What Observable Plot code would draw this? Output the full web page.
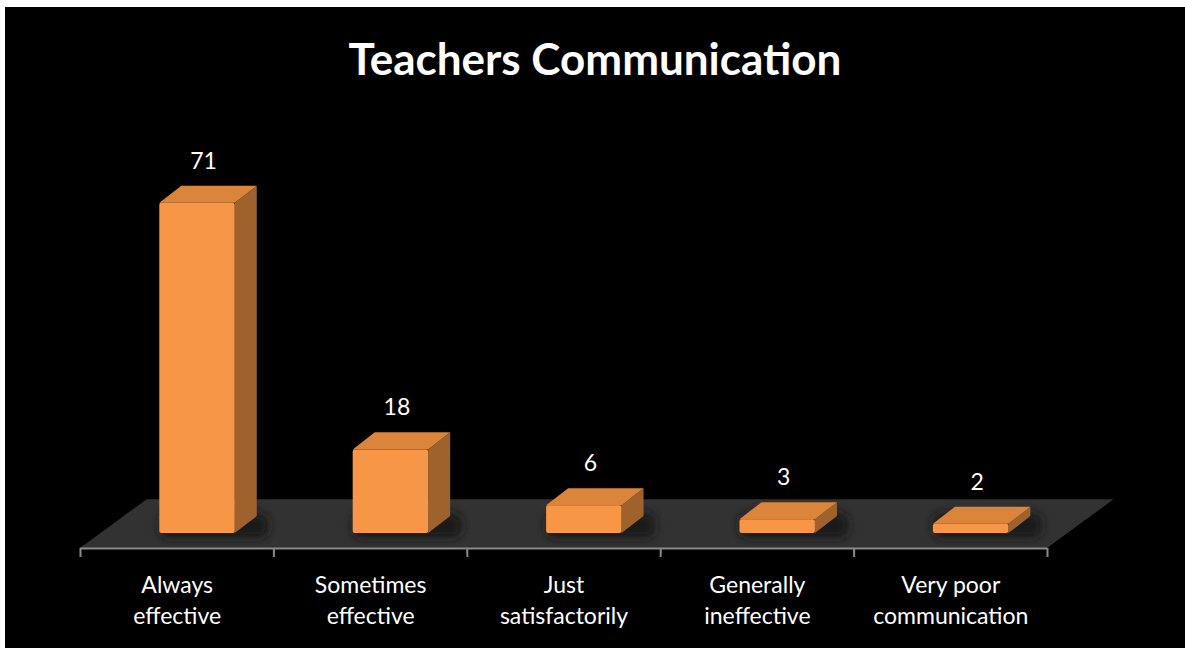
<!DOCTYPE html>
<html>
<head>
<meta charset="utf-8">
<script src="https://cdn.jsdelivr.net/npm/d3@7"></script>
<script src="https://cdn.jsdelivr.net/npm/@observablehq/plot@0.6"></script>
<style>
  html, body { margin: 0; padding: 0; background: #ffffff; }
  #wrap { position: absolute; left: 5px; top: 7px; width: 1180px; height: 641px; background: #000; overflow: hidden; }
  #title { height: 100px; line-height: 102px; text-align: center; color: #fff; font-family: Lato, "Open Sans", sans-serif; font-weight: bold; font-size: 44px; }
  #chart svg { display: block; }
</style>
</head>
<body>
<div id="wrap">
  <div id="title">Teachers Communication</div>
  <div id="chart"></div>
</div>
<script>
// ---- data ----
const title = "Teachers Communication";
const categories = ["Always\neffective", "Sometimes\neffective", "Just\nsatisfactorily", "Generally\nineffective", "Very poor\ncommunication"];
const values = [71, 18, 6, 3, 2];

// ---- styling / pseudo-3D geometry (in scale units) ----
const BAR_L = 0.41, BAR_R = 0.80;     // front face within each band
const DX = 0.114, DY = 3.66;          // depth offset of the bar
const FLOOR_FRONT = -3.2, FLOOR_BACK = 7.3, FLOOR_DX = 0.345;
const SHADOW = "#141414";
const n = categories.length;

const rows = categories.map((c, i) => ({i, cat: c, v: values[i]}));

const floor = [
  {y: FLOOR_FRONT, x1: 0, x2: n},
  {y: FLOOR_BACK, x1: FLOOR_DX, x2: n + FLOOR_DX}
];
const sides = rows.flatMap(d => [
  {z: d.i, x: d.i + BAR_R, y1: 0, y2: d.v},
  {z: d.i, x: d.i + BAR_R + DX, y1: DY, y2: d.v + DY}
]);
const tops = rows.flatMap(d => [
  {z: d.i, y: d.v, x1: d.i + BAR_L, x2: d.i + BAR_R},
  {z: d.i, y: d.v + DY, x1: d.i + BAR_L + DX, x2: d.i + BAR_R + DX}
]);

const chart = Plot.plot({
  width: 1180,
  height: 541,
  marginLeft: 75,
  marginRight: 138,
  marginTop: 54,
  marginBottom: 100,
  x: {type: "linear", domain: [0, n], axis: null},
  y: {type: "linear", domain: [FLOOR_FRONT, 80], axis: null},
  style: {background: "#000", color: "#fff", fontFamily: "Lato, 'Open Sans', sans-serif"},
  marks: [
    // floor
    Plot.areaX(floor, {y: "y", x1: "x1", x2: "x2", fill: "#323232"}),
    // soft shadow on the floor
    Plot.rect(rows, {x1: d => d.i + BAR_L + 0.0, x2: d => d.i + BAR_R + DX + 0.06, y1: -1.0, y2: DY + 0.6, fill: SHADOW, fillOpacity: 0.9, rx: 8}),
    // axis line and ticks
    Plot.ruleY([FLOOR_FRONT], {x1: 0, x2: n, stroke: "#8a8a8a", strokeWidth: 2}),
    Plot.ruleX(d3.range(n + 1), {y1: FLOOR_FRONT, y2: FLOOR_FRONT - 1.94, stroke: "#8a8a8a", strokeWidth: 2}),
    // bar side faces
    Plot.areaY(sides, {x: "x", y1: "y1", y2: "y2", z: "z", fill: "#a0622c"}),
    // bar top faces
    Plot.areaX(tops, {y: "y", x1: "x1", x2: "x2", z: "z", fill: "#db853c"}),
    // bar front faces
    Plot.rect(rows, {x1: d => d.i + BAR_L, x2: d => d.i + BAR_R, y1: 0, y2: "v", fill: "#f79646", rx: 2}),
    // value labels
    Plot.text(rows, {x: d => d.i + (BAR_L + BAR_R) / 2, y: d => d.v + DY, text: d => String(d.v), dx: 6, dy: -25, fill: "#fff", fontSize: 23}),
    // category labels
    Plot.text(rows, {x: d => d.i + 0.5, y: FLOOR_FRONT, text: "cat", dy: 50, lineHeight: 1.36, fill: "#fff", fontSize: 23})
  ]
});
// soften the floor shadow with a blur filter
const svg = d3.select(chart);
svg.insert("defs", ":first-child")
  .append("filter").attr("id", "shadow-blur").attr("x", "-50%").attr("y", "-50%").attr("width", "200%").attr("height", "200%")
  .append("feGaussianBlur").attr("stdDeviation", 5);
svg.selectAll("g").filter(function () { return this.getAttribute("fill") === SHADOW; }).attr("filter", "url(#shadow-blur)");
svg.selectAll("rect").filter(function () { return this.getAttribute("fill") === SHADOW; }).attr("filter", "url(#shadow-blur)");
document.getElementById("chart").appendChild(chart);
</script>
</body>
</html>
